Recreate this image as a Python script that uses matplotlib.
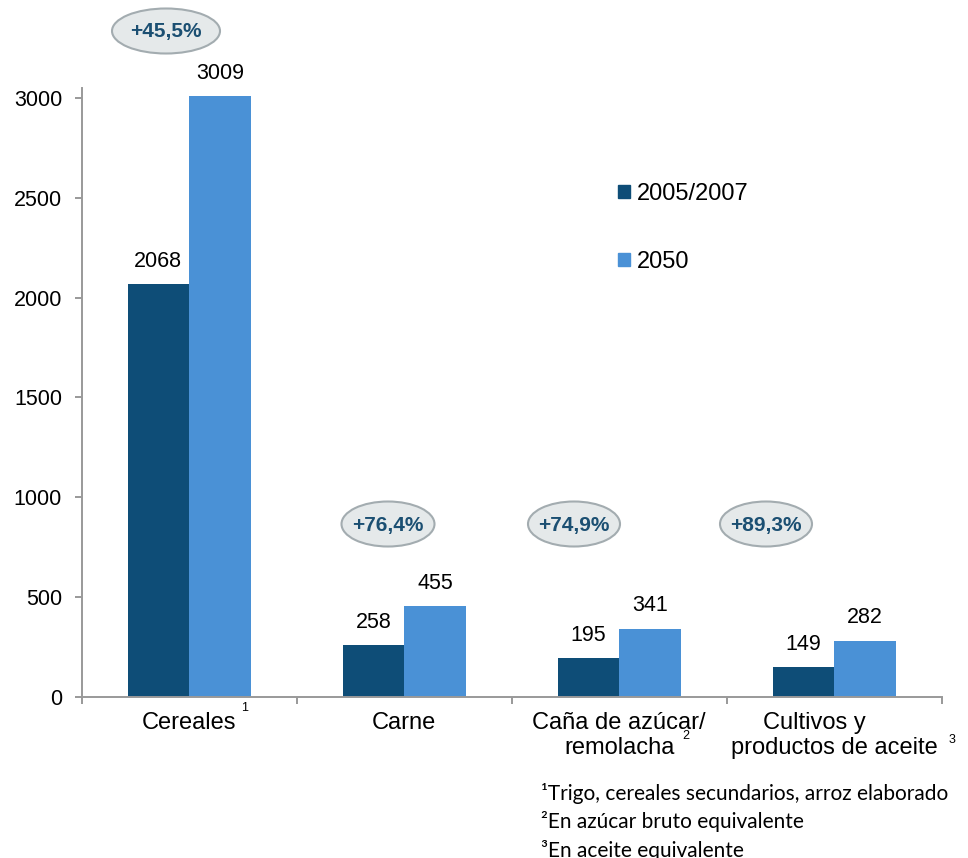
import matplotlib
matplotlib.use('Agg')
import matplotlib.pyplot as plt
from matplotlib.patches import Ellipse, Patch

plt.rcParams['font.family'] = ['Liberation Sans', 'DejaVu Sans']

# datos
categorias = ['Cereales', 'Carne', 'Caña de azúcar/\nremolacha', 'Cultivos y      \nproductos de aceite']
serie_2005 = [2068, 258, 195, 149]
serie_2050 = [3009, 455, 341, 282]
nombres_series = ['2005/2007', '2050']
notas = ['¹Trigo, cereales secundarios, arroz elaborado',
         '²En azúcar bruto equivalente',
         '³En aceite equivalente']
superindices = ['1', '2', '3']

c_oscuro = '#0e4d77'
c_claro = '#4a91d6'
gris = '#999999'

W, H = 968, 858
fig = plt.figure(figsize=(W / 100, H / 100), dpi=100)

def fx(px):
    return px / W

def fy(py):
    return 1 - py / H

ax = fig.add_axes([fx(81.5), fy(697), fx(942) - fx(81.5), fy(88) - fy(697)])

x = list(range(len(categorias)))
ancho = 0.286
b1 = ax.bar([i - ancho for i in x], serie_2005, ancho, align='edge', color=c_oscuro, label=nombres_series[0])
b2 = ax.bar(x, serie_2050, ancho, align='edge', color=c_claro, label=nombres_series[1])

for barras in (b1, b2):
    for r in barras:
        ax.annotate(f'{int(r.get_height())}', (r.get_x() + r.get_width() / 2, r.get_height()),
                    xytext=(0, 9), textcoords='offset points', ha='center', va='bottom', fontsize=15.5)

ax.set_xlim(-0.5, 3.5)
ax.set_ylim(0, 3050)
ax.set_yticks(range(0, 3001, 500))
ax.set_xticks(x)
ax.set_xticklabels(categorias, fontsize=17, linespacing=1.15)
ax.set_xticks([i - 0.5 for i in range(len(categorias) + 1)], minor=True)
ax.tick_params(axis='x', which='major', length=0, pad=11)
ax.tick_params(axis='x', which='minor', length=5, width=1.4, color=gris, direction='out')
ax.tick_params(axis='y', length=5, width=1.4, color=gris, labelsize=15.5, pad=9)

for s in ['top', 'right']:
    ax.spines[s].set_visible(False)
for s in ['left', 'bottom']:
    ax.spines[s].set_color(gris)
    ax.spines[s].set_linewidth(1.4)

# superindices de las categorias
sup_pos = [(245, 708), (686, 736), (952, 740)]
for t, (px, py) in zip(superindices, sup_pos):
    fig.text(fx(px), fy(py), t, fontsize=9, ha='center', va='center')

# leyenda
handles = [Patch(color=c_oscuro), Patch(color=c_claro)]
fig.legend(handles, nombres_series, loc='upper left', bbox_to_anchor=(fx(618), fy(183)),
           frameon=False, fontsize=17, handlelength=0.5, handleheight=0.5,
           handletextpad=0.3, labelspacing=1.95, borderpad=0, borderaxespad=0)

# elipses con el crecimiento
crec = [(b / a - 1) * 100 for a, b in zip(serie_2005, serie_2050)]
elipses = [(166, 31, 108), (388, 524, 93), (574, 524, 92), (766, 524, 92)]
for v, (px, py, w) in zip(crec, elipses):
    e = Ellipse((fx(px), fy(py)), fx(w), 45 / H, transform=fig.transFigure,
                facecolor='#e5e9ea', edgecolor='#a3acb0', linewidth=1.5)
    fig.add_artist(e)
    fig.text(fx(px), fy(py + 1), ('+%.1f%%' % v).replace('.', ','), ha='center', va='center',
             fontsize=15, fontweight='bold', color='#1b4f72')

# notas al pie
for i, n in enumerate(notas):
    fig.text(fx(541), fy(800 + 28.5 * i), n, fontsize=15, family='Lato', ha='left', va='baseline')

fig.savefig('out.png', dpi=100)
